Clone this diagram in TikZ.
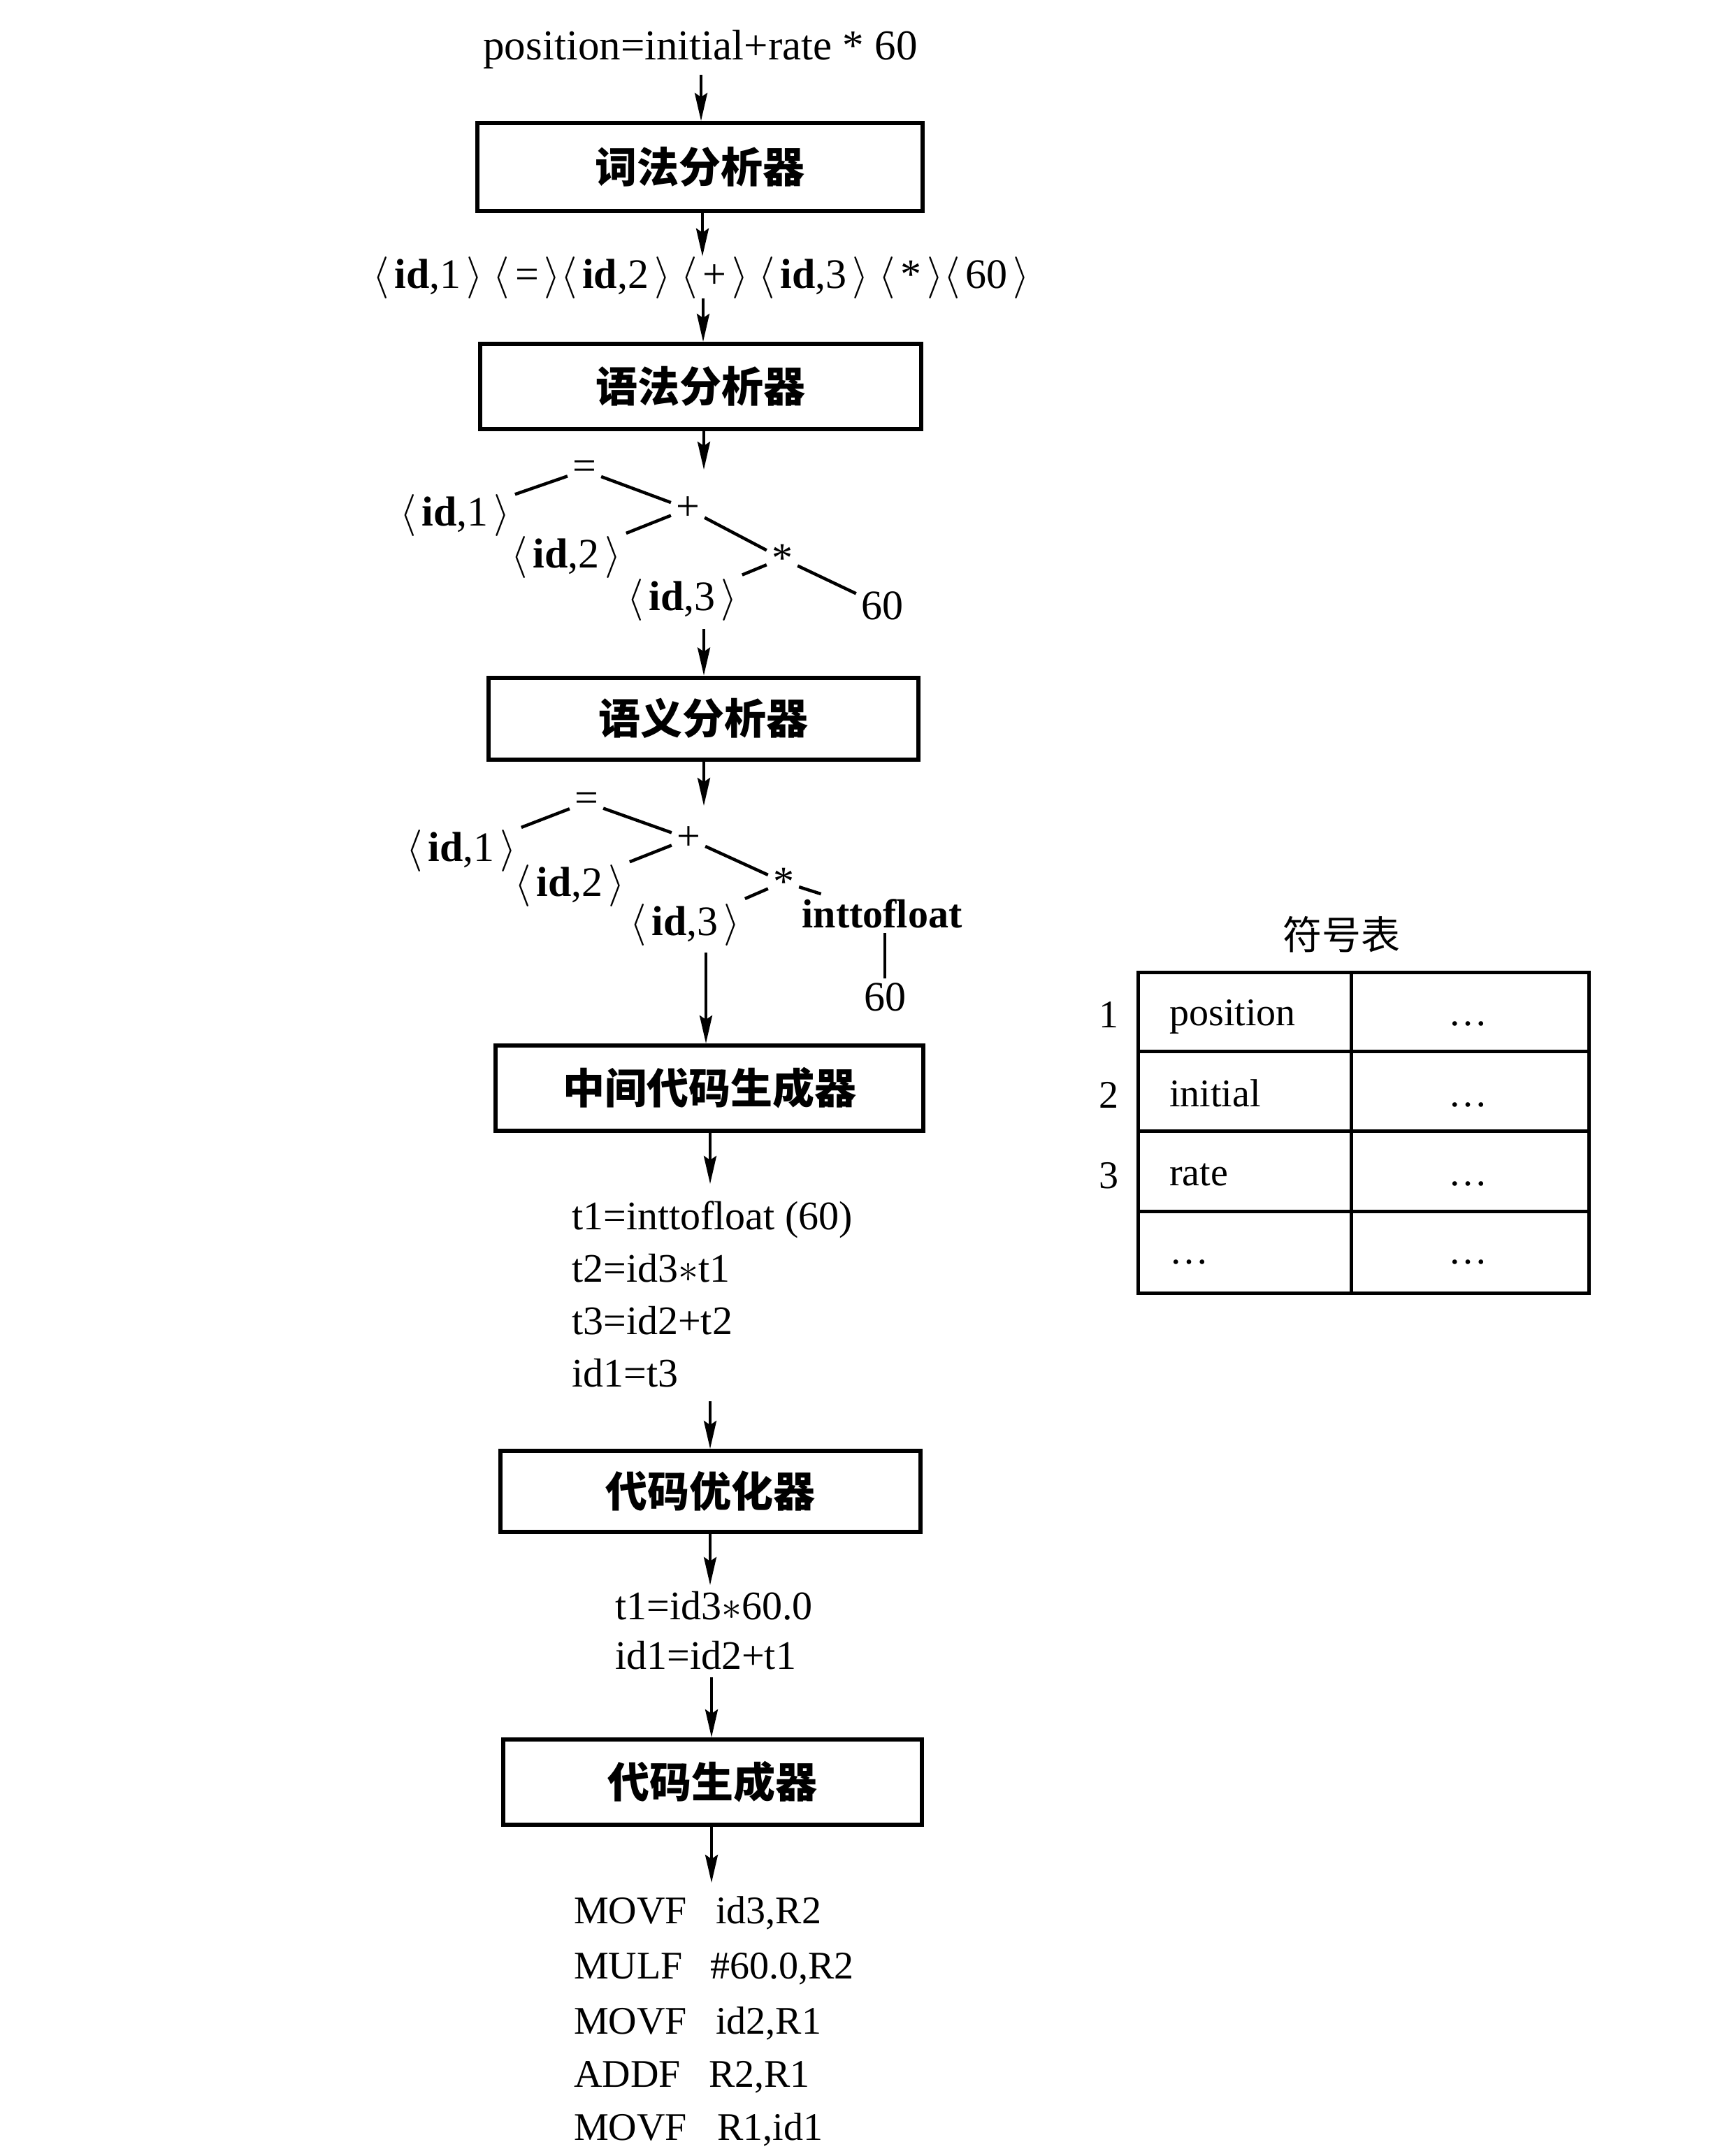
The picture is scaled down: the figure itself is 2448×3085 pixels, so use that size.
\RequirePackage{fix-cm}
\documentclass[tikz,border=0pt]{standalone}
\usepackage{fontspec}
\setmainfont{Liberation Serif}
\newfontfamily\cjk{Noto Sans CJK SC}
\usetikzlibrary{arrows.meta}
\newcommand\la{\(\langle\)\kern0.13em}
\newcommand\ra{\kern0.13em\(\rangle\)}
\newcommand\idb{\textbf{id}}
\begin{document}
\begin{tikzpicture}[x=1pt,y=-1pt,
  box/.style={draw, line width=6pt, inner sep=0pt, font=\cjk\bfseries\fontsize{60}{64}\selectfont},
  txt/.style={inner sep=0pt, font=\fontsize{56}{60}\selectfont},
  ctxt/.style={inner sep=0pt, font=\fontsize{58}{62}\selectfont},
  tn/.style={inner sep=7pt, font=\fontsize{60}{64}\selectfont},
  arr/.style={line width=4pt, -{Stealth[length=40pt,width=18pt,inset=6pt]}},
  tedge/.style={line width=4.5pt},
  tabline/.style={line width=5pt}]
\useasboundingbox (0,0) rectangle (2448,3085);

% ---------- main chain ----------
\node[inner sep=0pt, font=\fontsize{61}{66}\selectfont, anchor=base] (src) at (1002,86) {position=initial+rate * 60};
\node[box, minimum width=637pt, minimum height=126pt] (b1) at (1001,239) {词法分析器};
\node[inner sep=0pt, font=\fontsize{60}{64}\selectfont, anchor=base] (tok) at (1003,412) {\la\idb,1\ra\ \la=\ra\la\idb,2\ra\ \la+\ra\ \la\idb,3\ra\ \la*\ra\la60\ra};
\node[box, minimum width=631pt, minimum height=122pt] (b2) at (1002,553) {语法分析器};

% tree 1
\node[tn] (eqa) at (836,673) {=};
\node[tn] (ida1) at (651,737) {\la\idb,1\ra};
\node[tn] (plusa) at (984,728) {+};
\node[tn] (ida2) at (810,797) {\la\idb,2\ra};
\node[tn] (mula) at (1119,799) {*};
\node[tn] (ida3) at (976,858) {\la\idb,3\ra};
\node[tn] (sixa) at (1262,867) {60};
\draw[tedge] (eqa) -- (ida1);
\draw[tedge] (eqa) -- (plusa);
\draw[tedge] (plusa) -- (ida2);
\draw[tedge] (plusa) -- (mula);
\draw[tedge] (mula) -- (ida3);
\draw[tedge] (mula) -- (sixa);

\node[box, minimum width=615pt, minimum height=117pt] (b3) at (1006,1028) {语义分析器};

% tree 2
\node[tn] (eqb) at (839,1148) {=};
\node[tn] (idb1) at (660,1217) {\la\idb,1\ra};
\node[tn] (plusb) at (985,1200) {+};
\node[tn] (idb2) at (815,1267) {\la\idb,2\ra};
\node[tn] (mulb) at (1121,1262) {*};
\node[tn] (idb3) at (980,1323) {\la\idb,3\ra};
\node[tn, font=\fontsize{58}{62}\selectfont] (itf) at (1262,1307) {\textbf{inttofloat}};
\node[tn] (sixb) at (1266,1427) {60};
\draw[tedge] (eqb) -- (idb1);
\draw[tedge] (eqb) -- (plusb);
\draw[tedge] (plusb) -- (idb2);
\draw[tedge] (plusb) -- (mulb);
\draw[tedge] (mulb) -- (idb3);
\draw[tedge] (mulb) -- (itf);
\draw[tedge] (itf.south -| sixb) -- (sixb.north);

\node[box, minimum width=612pt, minimum height=122pt] (b4) at (1015,1557) {中间代码生成器};

\node[ctxt, anchor=base west] (c1) at (818,1759) {t1=inttofloat (60)};
\node[ctxt, anchor=base west] (c2) at (818,1834) {t2=id3\(\ast\)t1};
\node[ctxt, anchor=base west] (c3) at (818,1909) {t3=id2+t2};
\node[ctxt, anchor=base west] (c4) at (818,1984) {id1=t3};

\node[box, minimum width=601pt, minimum height=116pt] (b5) at (1016,2134) {代码优化器};

\node[ctxt, anchor=base west] (o1) at (880,2317) {t1=id3\(\ast\)60.0};
\node[ctxt, anchor=base west] (o2) at (880,2388) {id1=id2+t1};

\node[box, minimum width=599pt, minimum height=122pt] (b6) at (1019,2550) {代码生成器};

\node[txt, anchor=base west] (m1) at (821,2752) {MOVF};
\node[txt, anchor=base west] (m1a) at (1024,2752) {id3,R2};
\node[txt, anchor=base west] (m2) at (821,2831) {MULF};
\node[txt, anchor=base west] (m2a) at (1016,2831) {\#60.0,R2};
\node[txt, anchor=base west] (m3) at (821,2910) {MOVF};
\node[txt, anchor=base west] (m3a) at (1024,2910) {id2,R1};
\node[txt, anchor=base west] (m4) at (821,2986) {ADDF};
\node[txt, anchor=base west] (m4a) at (1014,2986) {R2,R1};
\node[txt, anchor=base west] (m5) at (821,3062) {MOVF};
\node[txt, anchor=base west] (m5a) at (1026,3062) {R1,id1};

% arrows
\coordinate (a4e) at (1007,672);
\coordinate (a5s) at (1007,900);
\coordinate (a6e) at (1007,1153);
\coordinate (a7s) at (1010,1363);
\coordinate (a8e) at (1016,1694);
\coordinate (a9s) at (1016,2005);
\coordinate (a10e) at (1016,2268);
\coordinate (a11s) at (1018,2400);
\coordinate (a12e) at (1018,2694);
\draw[arr] (src.south -| 1003,0) ++(0,8) -- (b1.north -| 1003,0);
\draw[arr] (b1.south -| 1005,0) -- (tok.north -| 1005,0);
\draw[arr] (tok.south -| 1006,0) -- (b2.north -| 1006,0);
\draw[arr] (b2.south -| a4e) -- (a4e);
\draw[arr] (a5s) -- (b3.north -| a5s);
\draw[arr] (b3.south -| a6e) -- (a6e);
\draw[arr] (a7s) -- (b4.north -| a7s);
\draw[arr] (b4.south -| a8e) -- (a8e);
\draw[arr] (a9s) -- (b5.north -| a9s);
\draw[arr] (b5.south -| a10e) -- (a10e);
\draw[arr] (a11s) -- (b6.north -| a11s);
\draw[arr] (b6.south -| a12e) -- (a12e);

% ---------- symbol table ----------
\node[inner sep=0pt, font=\cjk\fontsize{56}{60}\selectfont] (symt) at (1919,1337) {符号表};
\draw[tabline] (1628,1391) rectangle (2273,1850);
\draw[tabline] (1628,1504) -- (2273,1504);
\draw[tabline] (1628,1618) -- (2273,1618);
\draw[tabline] (1628,1733) -- (2273,1733);
\draw[tabline] (1933,1391) -- (1933,1850);
\node[txt] (r1) at (1586,1452) {1};
\node[txt] (r2) at (1586,1567) {2};
\node[txt] (r3) at (1586,1682) {3};
\node[txt, anchor=base west] (n1) at (1673,1467) {position};
\node[txt, anchor=base west] (n2) at (1673,1583) {initial};
\node[txt, anchor=base west] (n3) at (1673,1696) {rate};
\node[txt, anchor=base west] (n4) at (1673,1808) {…};
\node[txt, anchor=base] (v1) at (2100,1467) {…};
\node[txt, anchor=base] (v2) at (2100,1583) {…};
\node[txt, anchor=base] (v3) at (2100,1696) {…};
\node[txt, anchor=base] (v4) at (2100,1808) {…};
\end{tikzpicture}
\end{document}
